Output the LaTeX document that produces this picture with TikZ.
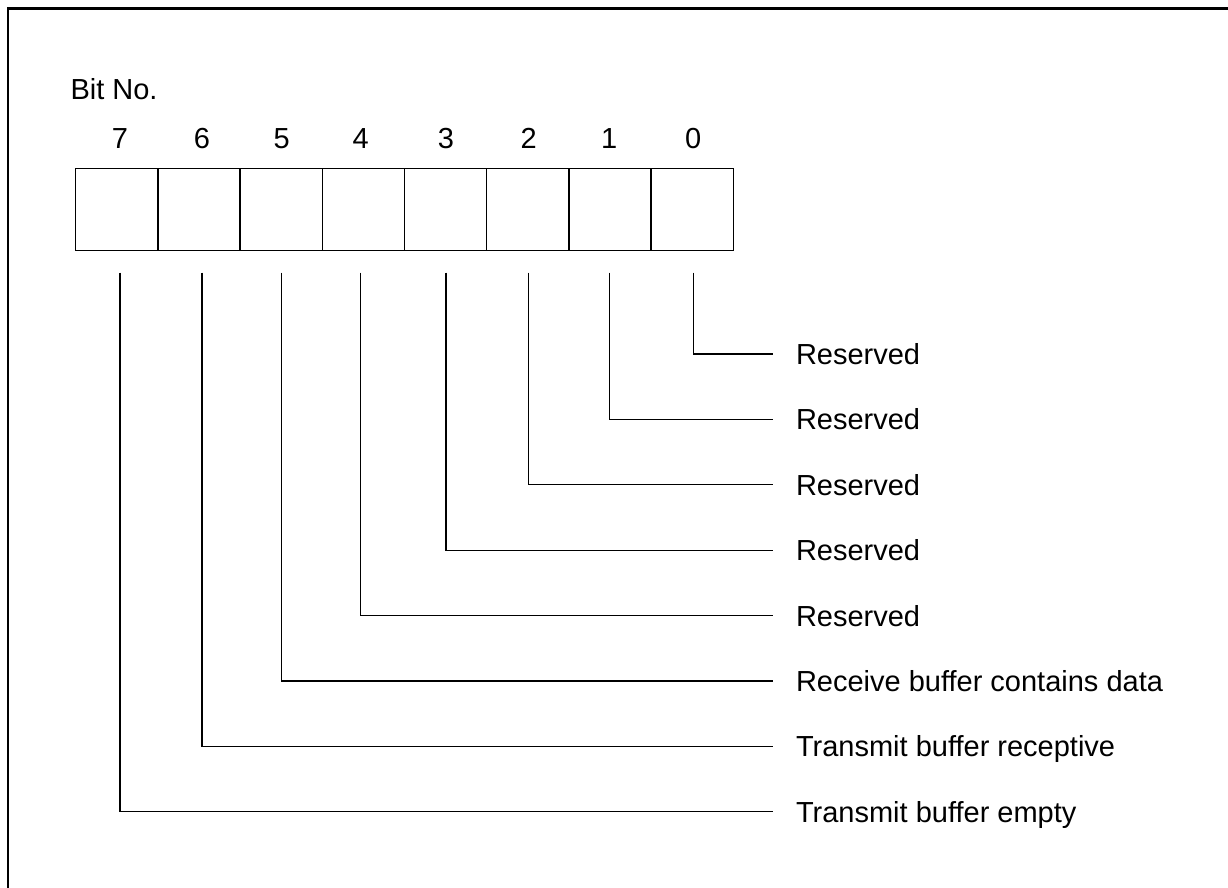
\documentclass[tikz,border=0pt]{standalone}
\usepackage{fontspec}
\setmainfont{Liberation Sans}
\begin{document}
\begin{tikzpicture}[x=1pt,y=-1pt,
  cell/.style={draw=black, line width=1.3pt, minimum width=82.2pt, minimum height=82.4pt, inner sep=0pt, outer sep=0pt},
  txt/.style={inner sep=0pt, outer sep=0pt, font=\fontsize{29}{34}\selectfont},
  lead/.style={draw=black, line width=1.2pt},
  frame/.style={draw=black, line width=2.6pt}]
\useasboundingbox (0,0) rectangle (1228,887);
\clip (0,0) rectangle (1228,887);
\draw[frame] (7.8,8.7) rectangle (1260,920);
% title
\node[txt, anchor=base west] (title) at (70.5,99) {Bit No.};
% cells and numbers
\foreach \b/\i/\lx in {7/0/120, 6/1/202, 5/2/281.7, 4/3/360.7, 3/4/446, 2/5/528.7, 1/6/609.3, 0/7/693.3}{
  \node[cell] (c\b) at ({75.7+82.2*\i+41.1},209.5) {};
  \node[txt, anchor=base] (n\b) at (\lx,148.3) {\b};
}
% labels and leaders
\foreach \b/\lx/\lab in {0/693.3/Reserved, 1/609.3/Reserved, 2/528.7/Reserved, 3/446/Reserved, 4/360.7/Reserved, 5/281.7/Receive buffer contains data, 6/202/Transmit buffer receptive, 7/120/Transmit buffer empty}{
  \pgfmathsetmacro{\ly}{354+65.4*\b}
  \coordinate (t\b) at (\lx,272.7);
  \coordinate (e\b) at (772.7,\ly);
  \node[txt, anchor=base west] (l\b) at (796,\ly+10.5) {\lab};
  \draw[lead] (t\b) |- (e\b);
}
\end{tikzpicture}
\end{document}
